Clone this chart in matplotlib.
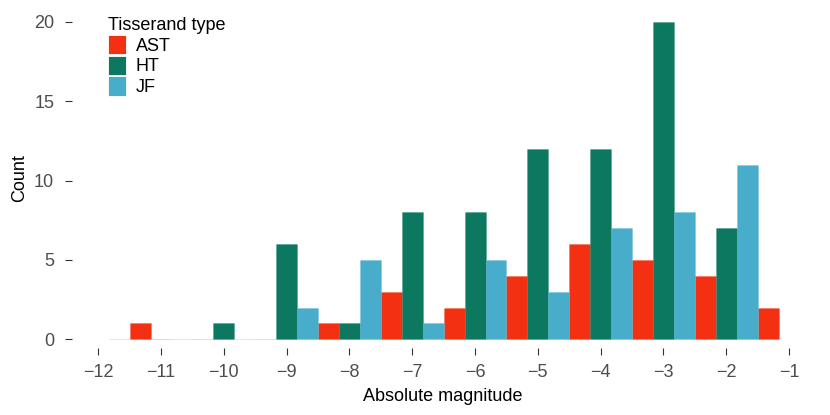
import numpy as np
import matplotlib
matplotlib.use('Agg')
import matplotlib.pyplot as plt
from matplotlib.colors import to_rgba
from matplotlib.patches import Patch

# bin centres of absolute magnitude (bin width 1)
mag_bins = [-12, -11, -10, -9, -8, -7, -6, -5, -4, -3, -2, -1]

# counts per Tisserand type (nan = no bar drawn)
ast_counts = [np.nan, 1, 0, 0, 1, 3, 2, 4, 6, 5, 4, 2]
ht_counts = [np.nan, 0, 1, 6, 1, 8, 8, 12, 12, 20, 7, np.nan]
jf_counts = [0, 0, 0, 2, 5, 1, 5, 3, 7, 8, 11, np.nan]

types = ['AST', 'HT', 'JF']
colours = {'AST': '#F33011', 'HT': '#0C7860', 'JF': '#48ADCA'}

plt.rcParams['font.family'] = ['Liberation Sans', 'DejaVu Sans']
fs = 13

fig = plt.figure(figsize=(8.3, 4.15), dpi=100)
W, H = 830, 415
ax = fig.add_axes([72 / W, 1 - 348 / H, (814 - 72) / W, (348 - 8) / H])

x = np.array(mag_bins, dtype=float)
w = 1 / 3
series = {'AST': ast_counts, 'HT': ht_counts, 'JF': jf_counts}
for i, t in enumerate(types):
    ax.bar(x + (i - 1) * w, series[t], width=w, color=colours[t],
           edgecolor=to_rgba(colours[t], 0.25), linewidth=0.6)

# map data to the pixel positions of the reference
px_per_x = (789 - 98.3) / 11
ax.set_xlim(-12 - (98.3 - 72) / px_per_x, -1 + (814 - 789) / px_per_x)
px_per_y = (339.3 - 21.7) / 20
ax.set_ylim(-(348 - 339.3) / px_per_y, 20 + (21.7 - 8) / px_per_y)

for s in ax.spines.values():
    s.set_visible(False)

ax.set_xticks(range(-12, 0))
ax.set_xticklabels([f'\u2212{abs(v)}' for v in range(-12, 0)])
ax.set_yticks([0, 5, 10, 15, 20])
ax.tick_params(axis='x', length=4.8, width=0.8, color='#333333',
               labelsize=fs, labelcolor='#4D4D4D', pad=7)
ax.tick_params(axis='y', length=5.3, width=0.8, color='#333333',
               labelsize=fs, labelcolor='#4D4D4D', pad=7.5)

ax.set_xlabel('Absolute magnitude', fontsize=fs, labelpad=5)
ax.set_ylabel('Count', fontsize=fs, labelpad=4)

# legend title drawn separately so the gap below it can be set
fig.text(108 / W, 1 - 29.5 / H, 'Tisserand type', fontsize=fs,
         ha='left', va='baseline')
handles = [Patch(facecolor=colours[t], edgecolor='white', linewidth=0.6) for t in types]
leg = ax.legend(handles, types, loc='upper left',
                bbox_to_anchor=(108 / W, 1 - 35 / H), bbox_transform=fig.transFigure,
                frameon=False, fontsize=fs, borderpad=0,
                borderaxespad=0, handlelength=1.0, handleheight=1.28,
                labelspacing=0.05, handletextpad=0.55)

fig.savefig('out.png', dpi=100)
